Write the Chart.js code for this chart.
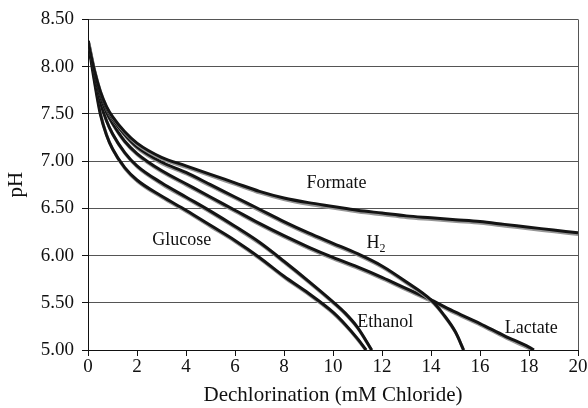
<!DOCTYPE html>
<html>
<head>
<meta charset="utf-8">
<script src="https://cdn.jsdelivr.net/npm/chart.js@4/dist/chart.umd.min.js"></script>
<style>
  html, body { margin: 0; padding: 0; background: #fff; }
  #wrap { width: 588px; height: 408px; position: relative; }
</style>
</head>
<body>
<div id="wrap"><canvas id="c" width="588" height="408"></canvas></div>
<script>
// ---- data ----
const formateX = [0, 0.25, 0.5, 0.75, 1, 1.5, 2, 3, 4, 5, 6, 7, 8, 9, 10, 11, 12, 13, 14, 15, 16, 17, 18, 19, 20];
const formateY = [8.27, 7.97, 7.74, 7.58, 7.47, 7.31, 7.19, 7.04, 6.95, 6.86, 6.77, 6.68, 6.61, 6.56, 6.52, 6.48, 6.45, 6.42, 6.40, 6.38, 6.36, 6.33, 6.30, 6.27, 6.24];

const h2X = [0, 0.25, 0.5, 0.75, 1, 1.5, 2, 3, 4, 5, 6, 7, 8, 9, 10, 11, 12, 13, 14, 14.5, 15, 15.33];
const h2Y = [8.27, 7.96, 7.72, 7.56, 7.45, 7.28, 7.15, 6.99, 6.88, 6.75, 6.62, 6.49, 6.36, 6.24, 6.13, 6.02, 5.89, 5.72, 5.53, 5.38, 5.19, 5.00];

const lactateX = [0, 0.25, 0.5, 0.75, 1, 1.5, 2, 3, 4, 5, 6, 7, 8, 9, 10, 11, 12, 13, 14, 15, 16, 17, 18, 18.2];
const lactateY = [8.27, 7.94, 7.69, 7.52, 7.40, 7.21, 7.08, 6.90, 6.76, 6.62, 6.48, 6.34, 6.21, 6.09, 5.98, 5.88, 5.77, 5.65, 5.53, 5.40, 5.28, 5.15, 5.03, 5.00];

const ethanolX = [0, 0.25, 0.5, 0.75, 1, 1.5, 2, 3, 4, 5, 6, 7, 8, 9, 10, 10.5, 11, 11.58];
const ethanolY = [8.27, 7.92, 7.63, 7.43, 7.29, 7.09, 6.95, 6.77, 6.62, 6.47, 6.31, 6.14, 5.94, 5.73, 5.51, 5.39, 5.24, 5.00];

const glucoseX = [0, 0.25, 0.5, 0.75, 1, 1.5, 2, 3, 4, 5, 6, 7, 8, 9, 10, 10.5, 11, 11.35];
const glucoseY = [8.27, 7.86, 7.50, 7.28, 7.13, 6.93, 6.80, 6.63, 6.48, 6.32, 6.16, 5.98, 5.78, 5.60, 5.40, 5.27, 5.12, 5.00];

const xTitle = 'Dechlorination (mM Chloride)';
const yTitle = 'pH';

// in-plot series labels (data coordinates)
const seriesLabels = [
  { text: 'Formate', sub: '', x: 8.92, y: 6.77 },
  { text: 'H', sub: '2', x: 11.37, y: 6.13 },
  { text: 'Glucose', sub: '', x: 2.62, y: 6.16 },
  { text: 'Ethanol', sub: '', x: 10.99, y: 5.29 },
  { text: 'Lactate', sub: '', x: 17.01, y: 5.235 }
];

const FONT = '"Liberation Serif", "Times New Roman", serif';

function pts(xs, ys) { return xs.map((x, i) => ({ x: x, y: ys[i] })); }

function ds(label, xs, ys) {
  return {
    label: label,
    data: pts(xs, ys),
    borderColor: '#141414',
    borderWidth: 3,
    pointRadius: 0,
    fill: false,
    cubicInterpolationMode: 'monotone'
  };
}

const shadowPlugin = {
  id: 'shadow',
  beforeDatasetsDraw(chart) {
    const ctx = chart.ctx;
    ctx.save();
    ctx.shadowColor = 'rgba(150,150,150,1)';
    ctx.shadowOffsetX = 0.8;
    ctx.shadowOffsetY = 1.8;
    ctx.shadowBlur = 0;
  },
  afterDatasetsDraw(chart) { chart.ctx.restore(); }
};

const decoPlugin = {
  id: 'deco',
  afterDraw(chart) {
    const ctx = chart.ctx, a = chart.chartArea;
    const xs = chart.scales.x, ys = chart.scales.y;
    ctx.save();
    // right border
    ctx.strokeStyle = '#555';
    ctx.lineWidth = 1;
    ctx.beginPath();
    const rx = Math.round(a.right) + 0.5;
    ctx.moveTo(rx, a.top);
    ctx.lineTo(rx, a.bottom);
    ctx.stroke();
    // labels
    ctx.fillStyle = '#111';
    ctx.textBaseline = 'middle';
    ctx.textAlign = 'left';
    seriesLabels.forEach(l => {
      const px = xs.getPixelForValue(l.x), py = ys.getPixelForValue(l.y);
      ctx.font = '18px ' + FONT;
      ctx.fillText(l.text, px, py);
      if (l.sub) {
        const w = ctx.measureText(l.text).width;
        ctx.font = '12px ' + FONT;
        ctx.fillText(l.sub, px + w, py + 6);
      }
    });
    ctx.restore();
  }
};

new Chart(document.getElementById('c'), {
  type: 'line',
  data: {
    datasets: [
      ds('Formate', formateX, formateY),
      ds('H2', h2X, h2Y),
      ds('Lactate', lactateX, lactateY),
      ds('Ethanol', ethanolX, ethanolY),
      ds('Glucose', glucoseX, glucoseY)
    ]
  },
  options: {
    responsive: false,
    animation: false,
    devicePixelRatio: 1,
    layout: { padding: { top: 19, right: 10, left: 0, bottom: 0 } },
    plugins: { legend: { display: false }, tooltip: { enabled: false } },
    scales: {
      x: {
        type: 'linear',
        min: 0, max: 20,
        ticks: { stepSize: 2, color: '#111', font: { family: FONT, size: 19 }, padding: 0, maxRotation: 0 },
        grid: { drawOnChartArea: false, drawTicks: true, tickLength: 6, tickColor: '#111', tickWidth: 1 },
        border: { color: '#111', width: 1 },
        title: { display: true, text: xTitle, color: '#111', font: { family: FONT, size: 21 }, padding: { top: 4, bottom: 0 } },
        afterFit(s) { s.height = 58; }
      },
      y: {
        type: 'linear',
        min: 5, max: 8.5,
        ticks: { stepSize: 0.5, color: '#111', font: { family: FONT, size: 19 }, padding: 8, callback: v => v.toFixed(2) },
        grid: { color: '#555', lineWidth: 1, drawTicks: true, tickLength: 6, tickColor: '#111' },
        border: { color: '#111', width: 1 },
        title: { display: true, text: yTitle, color: '#111', font: { family: FONT, size: 21 }, padding: { top: 4, bottom: 0 } },
        afterFit(s) { s.width = 88; }
      }
    }
  },
  plugins: [shadowPlugin, decoPlugin]
});
</script>
</body>
</html>
